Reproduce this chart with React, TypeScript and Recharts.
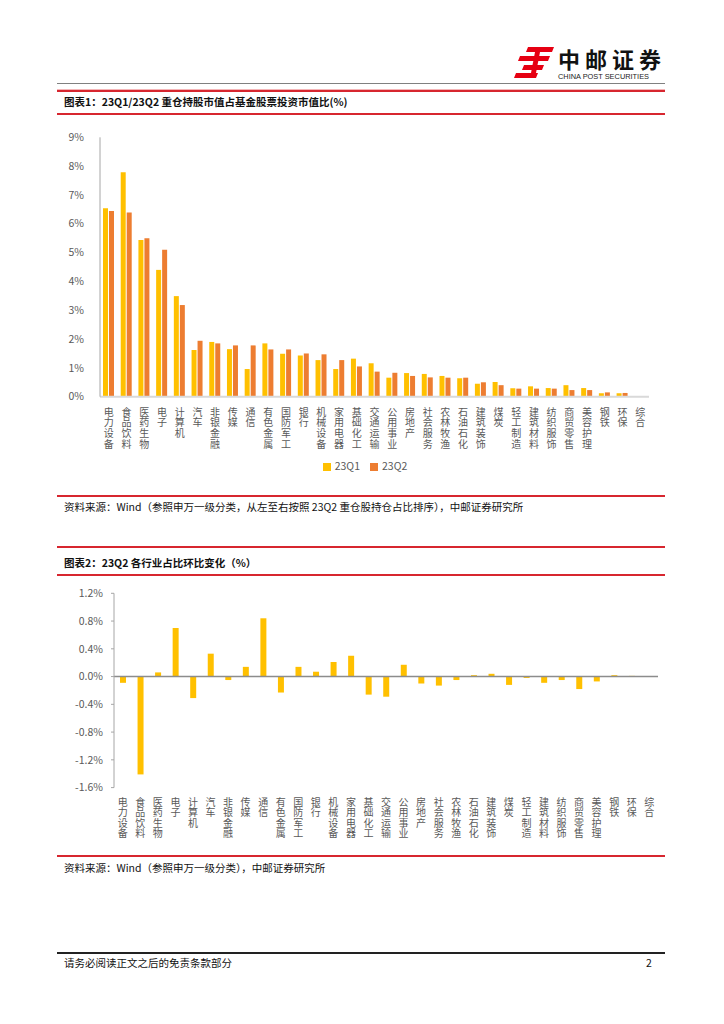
import { BarChart, Bar, XAxis, YAxis, Legend, ReferenceLine } from 'recharts'

const industries = [
  '电力设备', '食品饮料', '医药生物', '电子', '计算机', '汽车', '非银金融', '传媒', '通信', '有色金属',
  '国防军工', '银行', '机械设备', '家用电器', '基础化工', '交通运输', '公用事业', '房地产', '社会服务', '农林牧渔',
  '石油石化', '建筑装饰', '煤炭', '轻工制造', '建筑材料', '纺织服饰', '商贸零售', '美容护理', '钢铁', '环保', '综合',
]

// 重仓持股市值占比 (%)
const share23Q1 = [
  6.54, 7.79, 5.44, 4.40, 3.49, 1.62, 1.90, 1.65, 0.96, 1.85,
  1.49, 1.43, 1.27, 0.96, 1.32, 1.16, 0.66, 0.82, 0.79, 0.72,
  0.64, 0.45, 0.51, 0.29, 0.36, 0.30, 0.40, 0.30, 0.12, 0.12, 0,
]
const share23Q2 = [
  6.44, 6.39, 5.50, 5.10, 3.18, 1.94, 1.85, 1.78, 1.78, 1.64,
  1.64, 1.50, 1.47, 1.27, 1.05, 0.87, 0.83, 0.72, 0.67, 0.66,
  0.66, 0.50, 0.40, 0.28, 0.28, 0.28, 0.23, 0.23, 0.15, 0.13, 0,
]

// 23Q2 环比变化 (pct)
const qoqChange = [
  -0.09, -1.41, 0.06, 0.70, -0.31, 0.33, -0.05, 0.14, 0.84, -0.23,
  0.14, 0.07, 0.21, 0.30, -0.26, -0.29, 0.17, -0.10, -0.13, -0.05,
  0.02, 0.04, -0.12, -0.02, -0.09, -0.05, -0.18, -0.07, 0.02, 0.01, 0,
]

const shareTicks = [0, 1, 2, 3, 4, 5, 6, 7, 8, 9]
const changeTicks = [-1.6, -1.2, -0.8, -0.4, 0, 0.4, 0.8, 1.2]

const shareData = industries.map((name, i) => ({ name, q1: share23Q1[i], q2: share23Q2[i] }))
const changeData = industries.map((name, i) => ({ name, change: qoqChange[i] }))

const CJK = '"Noto Sans CJK SC", "Noto Sans", sans-serif'
const RED = '#D7262F'
const AXIS_TEXT = '#595959'

// one character per line, reading downwards
function StackedTick({ x, y, payload, first }: any) {
  const chars = String(payload.value).split('')
  return (
    <g>
      {chars.map((c, i) => (
        <text key={i} x={x} y={y + first + i * 10.6} textAnchor="middle" fill={AXIS_TEXT} fontSize={10} fontFamily={CJK}>
          {c}
        </text>
      ))}
    </g>
  )
}

function Logo() {
  return (
    <div style={{ position: 'absolute', left: 514, top: 44, width: 160, height: 38 }}>
      <svg width={42} height={36} style={{ position: 'absolute', left: 0, top: 0 }}>
        <g fill="#E60012">
          <polygon points="14,3 40,3 38,8 12,8" />
          <polygon points="6,12 36,12 34,17 4,17" />
          <polygon points="10,21 30,21 28,26 8,26" />
          <polygon points="2,29 24,29 22,34 0,34" />
          <polygon points="22,3 27,3 21,34 16,34" />
        </g>
      </svg>
      <div style={{ position: 'absolute', left: 44, top: 0, fontFamily: CJK, fontWeight: 700, fontSize: 22, letterSpacing: 5, lineHeight: '28px', color: '#111' }}>
        中邮证券
      </div>
      <div style={{ position: 'absolute', left: 44, top: 28, fontFamily: 'Liberation Sans, Arial, sans-serif', fontSize: 7.4, lineHeight: '9px', color: '#222', whiteSpace: 'nowrap' }}>
        CHINA POST SECURITIES
      </div>
    </div>
  )
}

function HLine({ top, color, h = 1 }: { top: number; color: string; h?: number }) {
  return <div style={{ position: 'absolute', left: 57, top, width: 608, height: h, background: color }} />
}

function Caption({ top, text, bold = false }: { top: number; text: string; bold?: boolean }) {
  return (
    <div style={{ position: 'absolute', left: 64, top, fontFamily: CJK, fontSize: 10.5, fontWeight: bold ? 700 : 400, color: '#111', whiteSpace: 'nowrap', lineHeight: '14px' }}>
      {text}
    </div>
  )
}

export default function App() {
  return (
    <div style={{ position: 'absolute', left: 0, top: 0, width: 724, height: 1024, background: '#fff', overflow: 'hidden' }}>
      <Logo />
      <HLine top={83} color="#808080" />
      <HLine top={89} color="#F4B6B8" />

      <HLine top={90} color={RED} h={2} />
      <Caption top={95} text="图表1：23Q1/23Q2 重仓持股市值占基金股票投资市值比(%)" bold />
      <HLine top={113} color={RED} h={2} />

      <div style={{ position: 'absolute', left: 0, top: 120, width: 724, height: 350 }}>
        <BarChart
          width={724}
          height={350}
          data={shareData}
          margin={{ top: 17.3, right: 75, bottom: 8.3, left: 60 }}
          barGap={1}
          barCategoryGap="18%"
        >
          <XAxis
            dataKey="name"
            interval={0}
            height={65}
            tickSize={0}
            tickMargin={0}
            axisLine={{ stroke: '#D9D9D9', strokeWidth: 2 }}
            tickLine={false}
            tick={<StackedTick first={19} />}
          />
          <YAxis
            width={40}
            domain={[0, 9]}
            ticks={shareTicks}
            interval={0}
            tickFormatter={(v: number) => `${v}%`}
            axisLine={{ stroke: '#A6A6A6' }}
            tickLine={false}
            tickMargin={10}
            tick={{ fill: AXIS_TEXT, fontSize: 10.5, fontFamily: CJK }}
          />
          <Legend
            layout="horizontal"
            verticalAlign="middle"
            align="center"
            iconType="square"
            iconSize={8}
            wrapperStyle={{ top: 338, left: 8, width: 724, fontSize: 10.5, fontFamily: CJK }}
            formatter={(v: string) => <span style={{ color: AXIS_TEXT }}>{v}</span>}
          />
          <Bar dataKey="q1" name="23Q1" fill="#FFC000" barSize={5} isAnimationActive={false} />
          <Bar dataKey="q2" name="23Q2" fill="#ED7D31" barSize={5} isAnimationActive={false} />
        </BarChart>
      </div>

      <HLine top={495} color={RED} h={2} />
      <Caption top={500} text="资料来源：Wind（参照申万一级分类，从左至右按照 23Q2 重仓股持仓占比排序），中邮证券研究所" />

      <HLine top={546} color={RED} h={2} />
      <Caption top={556} text="图表2：23Q2 各行业占比环比变化（%）" bold />
      <HLine top={574} color={RED} h={2} />

      <div style={{ position: 'absolute', left: 0, top: 580, width: 724, height: 270 }}>
        <BarChart
          width={724}
          height={270}
          data={changeData}
          margin={{ top: 13.3, right: 66, bottom: 2.4, left: 70 }}
          barCategoryGap="30%"
        >
          <XAxis
            dataKey="name"
            interval={0}
            height={60}
            tickSize={0}
            tickMargin={0}
            axisLine={false}
            tickLine={false}
            tick={<StackedTick first={18} />}
          />
          <YAxis
            width={44}
            domain={[-1.6, 1.2]}
            ticks={changeTicks}
            interval={0}
            tickFormatter={(v: number) => `${v.toFixed(1)}%`}
            axisLine={{ stroke: '#A6A6A6' }}
            tickLine={{ stroke: '#A6A6A6' }}
            tickSize={3}
            tickMargin={8}
            tick={{ fill: AXIS_TEXT, fontSize: 10.5, fontFamily: CJK }}
          />
          <ReferenceLine y={0} stroke="#8C8C8C" strokeWidth={1.5} />
          <Bar dataKey="change" fill="#FFC000" barSize={6} isAnimationActive={false} />
        </BarChart>
      </div>

      <HLine top={855} color={RED} h={2} />
      <Caption top={861} text="资料来源：Wind（参照申万一级分类），中邮证券研究所" />

      <HLine top={952} color="#222" h={1.5} />
      <Caption top={956} text="请务必阅读正文之后的免责条款部分" />
      <div style={{ position: 'absolute', left: 646, top: 956, fontFamily: CJK, fontSize: 10.5, lineHeight: '14px', color: '#111' }}>2</div>
    </div>
  )
}
